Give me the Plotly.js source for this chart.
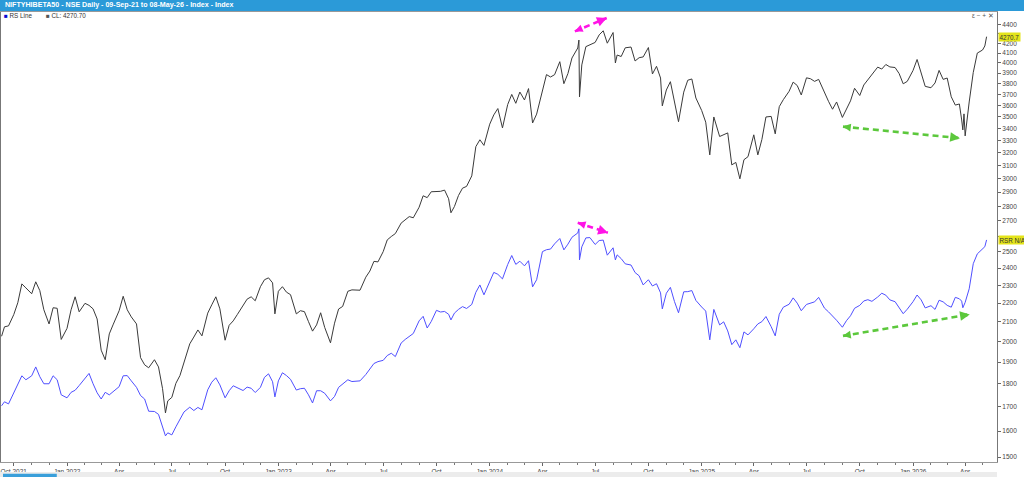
<!DOCTYPE html>
<html><head><meta charset="utf-8">
<script src="https://cdn.plot.ly/plotly-3.0.1.min.js"></script>
<style>html,body{margin:0;padding:0;background:#fff;overflow:hidden}#chart{width:1024px;height:477px}</style>
</head><body><div id="chart"></div>
<script>
const dates = [
 '2021-09-10','2021-09-15','2021-09-22','2021-09-27',
 '2021-10-01','2021-10-08','2021-10-15','2021-10-22',
 '2021-11-01','2021-11-08','2021-11-15','2021-11-22',
 '2021-12-01','2021-12-08','2021-12-15','2021-12-22',
 '2022-01-01','2022-01-08','2022-01-15','2022-01-22',
 '2022-02-01','2022-02-08','2022-02-15','2022-02-22',
 '2022-03-01','2022-03-08','2022-03-15','2022-03-22',
 '2022-04-01','2022-04-08','2022-04-15','2022-04-22',
 '2022-05-01','2022-05-08','2022-05-15','2022-05-22',
 '2022-06-01','2022-06-08','2022-06-15','2022-06-20','2022-06-24',
 '2022-07-01','2022-07-08','2022-07-15','2022-07-22',
 '2022-08-01','2022-08-08','2022-08-15','2022-08-22',
 '2022-09-01','2022-09-08','2022-09-15','2022-09-22',
 '2022-10-01','2022-10-08','2022-10-15','2022-10-22',
 '2022-11-01','2022-11-08','2022-11-15','2022-11-22',
 '2022-12-01','2022-12-08','2022-12-15','2022-12-22','2022-12-26',
 '2023-01-01','2023-01-08','2023-01-15','2023-01-22',
 '2023-02-01','2023-02-08','2023-02-15','2023-02-22',
 '2023-03-01','2023-03-08','2023-03-15','2023-03-22',
 '2023-04-01','2023-04-08','2023-04-15','2023-04-22',
 '2023-05-01','2023-05-08','2023-05-15','2023-05-22',
 '2023-06-01','2023-06-08','2023-06-15','2023-06-22',
 '2023-07-01','2023-07-08','2023-07-15','2023-07-22',
 '2023-08-01','2023-08-08','2023-08-15','2023-08-22',
 '2023-09-01','2023-09-08','2023-09-15','2023-09-22',
 '2023-10-01','2023-10-08','2023-10-15','2023-10-22','2023-10-26',
 '2023-11-01','2023-11-08','2023-11-15','2023-11-22',
 '2023-12-01','2023-12-08','2023-12-15','2023-12-22',
 '2024-01-01','2024-01-08','2024-01-15','2024-01-23',
 '2024-02-01','2024-02-08','2024-02-15','2024-02-22',
 '2024-03-01','2024-03-08','2024-03-15','2024-03-22',
 '2024-04-01','2024-04-08','2024-04-15','2024-04-22',
 '2024-05-01','2024-05-08','2024-05-15','2024-05-22',
 '2024-06-01','2024-06-03','2024-06-04','2024-06-08','2024-06-15','2024-06-22',
 '2024-07-01','2024-07-08','2024-07-15','2024-07-22',
 '2024-08-01','2024-08-05','2024-08-08','2024-08-15','2024-08-22',
 '2024-09-01','2024-09-08','2024-09-15','2024-09-22',
 '2024-10-01','2024-10-08','2024-10-15','2024-10-22','2024-10-25',
 '2024-11-01','2024-11-08','2024-11-15','2024-11-22',
 '2024-12-01','2024-12-08','2024-12-15','2024-12-22',
 '2025-01-01','2025-01-08','2025-01-15','2025-01-22',
 '2025-02-01','2025-02-08','2025-02-15','2025-02-22',
 '2025-03-01','2025-03-08','2025-03-15','2025-03-22',
 '2025-04-01','2025-04-08','2025-04-15','2025-04-22',
 '2025-05-01','2025-05-08','2025-05-15','2025-05-22',
 '2025-06-01','2025-06-08','2025-06-15','2025-06-22',
 '2025-07-01','2025-07-08','2025-07-15','2025-07-22',
 '2025-08-01','2025-08-08','2025-08-15','2025-08-22',
 '2025-09-01','2025-09-08','2025-09-15','2025-09-22',
 '2025-10-01','2025-10-08','2025-10-15','2025-10-22',
 '2025-11-01','2025-11-08','2025-11-15','2025-11-22',
 '2025-12-01','2025-12-08','2025-12-15','2025-12-22',
 '2026-01-01','2026-01-08','2026-01-15','2026-01-22',
 '2026-02-01','2026-02-08','2026-02-15','2026-02-22',
 '2026-03-01','2026-03-08','2026-03-15','2026-03-22','2026-03-26','2026-03-28','2026-03-30',
 '2026-04-01','2026-04-08','2026-04-15','2026-04-22',
 '2026-05-01','2026-05-05','2026-05-08'
];
const closeVals = [
 2026,2074,2079,2115,
 2138,2202,2308,2285,
 2252,2320,2270,2164,
 2089,2175,2172,2010,
 2066,2164,2235,2153,
 2199,2188,2169,2115,
 1957,1911,2038,2088,
 2159,2238,2164,2126,
 2089,1921,1887,1873,
 1911,1877,1778,1674,1725,
 1740,1802,1837,1901,
 1988,2022,2058,2028,
 2146,2191,2235,2169,
 2006,2082,2105,2138,
 2189,2222,2235,2213,
 2292,2332,2343,2314,2142,
 2266,2292,2261,2247,
 2142,2159,2154,2101,
 2052,2084,2148,2071,
 1993,2093,2168,2182,
 2266,2274,2274,2272,
 2347,2383,2441,2438,
 2501,2575,2597,2616,
 2685,2710,2729,2721,
 2793,2874,2861,2903,
 2907,2906,2915,2853,2755,
 2798,2876,2929,2942,
 3020,3248,3304,3258,
 3435,3515,3571,3403,
 3607,3699,3618,3721,
 3648,3753,3445,3522,
 3721,3886,3863,3885,
 4013,3799,3896,4050,
 4152,4235,3676,3981,4166,4187,
 4210,4290,4334,4202,
 4315,4000,4080,4065,4154,
 4162,4020,4053,4061,
 4157,3892,3967,3853,3595,
 3740,3818,3639,3456,
 3720,3832,3844,3666,
 3554,3452,3182,3497,
 3331,3349,3361,3104,
 3123,2998,3144,3168,
 3345,3182,3307,3497,
 3502,3353,3588,3651,
 3728,3814,3782,3694,
 3855,3846,3821,3840,
 3709,3636,3565,3630,
 3493,3572,3640,3756,
 3689,3787,3836,3880,
 3959,3940,3985,3961,
 3955,3896,3798,3821,
 3926,4035,3907,3774,
 3761,3806,3927,3840,
 3853,3677,3602,3612,3471,3386,3524,
 3336,3630,3907,4100,
 4131,4173,4270.7
];
const rsVals = [
 1704,1721,1712,1738,
 1757,1795,1836,1818,
 1836,1877,1832,1800,
 1800,1836,1818,1751,
 1738,1762,1771,1792,
 1827,1847,1800,1760,
 1733,1762,1751,1767,
 1787,1836,1837,1813,
 1784,1748,1733,1681,
 1680,1668,1621,1581,1593,
 1585,1617,1650,1678,
 1698,1684,1697,1687,
 1773,1807,1827,1795,
 1738,1769,1791,1782,
 1770,1785,1780,1761,
 1784,1829,1845,1809,1742,
 1813,1850,1837,1820,
 1772,1778,1780,1751,
 1716,1769,1769,1758,
 1725,1744,1784,1799,
 1818,1810,1810,1813,
 1842,1870,1893,1902,
 1908,1931,1942,1926,
 1992,2010,2023,2040,
 2105,2129,2068,2102,
 2161,2152,2155,2140,2110,
 2146,2166,2181,2171,
 2193,2260,2302,2246,
 2325,2375,2364,2337,
 2422,2477,2423,2442,
 2414,2445,2291,2332,
 2501,2513,2517,2550,
 2584,2512,2548,2592,
 2620,2647,2450,2531,2588,2590,
 2546,2571,2574,2479,
 2525,2450,2481,2458,2426,
 2419,2374,2355,2302,
 2332,2296,2309,2257,2169,
 2255,2288,2209,2148,
 2263,2264,2270,2215,
 2179,2157,2008,2166,
 2084,2100,2053,1984,
 2008,1969,2048,2033,
 2064,2089,2101,2128,
 2075,2028,2140,2178,
 2194,2229,2200,2159,
 2193,2202,2207,2232,
 2173,2153,2133,2108,
 2072,2106,2132,2172,
 2188,2212,2219,2210,
 2234,2255,2244,2218,
 2208,2175,2143,2167,
 2208,2245,2218,2174,
 2186,2166,2216,2207,
 2188,2178,2232,2224,2211,2175,2191,
 2204,2280,2427,2487,
 2514,2532,2575
];
const yTicks = [1500,1600,1700,1800,1900,2000,2100,2200,2300,2400,2500,2600,2700,2800,2900,3000,3100,3200,3300,3400,3500,3600,3700,3800,3900,4000,4100,4200,4300,4400];
// 4300 and 2600 sit under the yellow value boxes in the reference
const yTickLabels = ['1500','1600','1700','1800','1900','2000','2100','2200','2300','2400','2500','','2700','2800','2900','3000','3100','3200','3300','3400','3500','3600','3700','3800','3900','4000','4100','4200','','4400'];
const xTickDates = ['2021-10-01','2022-01-01','2022-04-01','2022-07-01','2022-10-01','2023-01-01','2023-04-01','2023-07-01','2023-10-01','2024-01-01','2024-04-01','2024-07-01','2024-10-01','2025-01-01','2025-04-01','2025-07-01','2025-10-01','2026-01-01','2026-04-01'];
const xTickLabels = ['Oct 2021','Jan 2022','Apr','Jul','Oct','Jan 2023','Apr','Jul','Oct','Jan 2024','Apr','Jul','Oct','Jan 2025','Apr','Jul','Oct','Jan 2026','Apr'];
const titleText = 'NIFTYHIBETA50 - NSE Daily - 09-Sep-21 to 08-May-26 - Index - Index';
const lastClose = '4270.7';

// annotation arrows: start/end date and value, colour, arrow-head tail offsets (px)
const arrowDefs = [
 {x0:'2024-05-27', v0:4328, x1:'2024-07-21', v1:4474, color:'#ff14e6', ex:-7, ey:3, sx:7, sy:-3},
 {x0:'2024-06-01', v0:2687, x1:'2024-07-23', v1:2622, color:'#ff14e6', ex:-8, ey:-2.5, sx:8, sy:2.5},
 {x0:'2025-09-02', v0:3414, x1:'2026-03-23', v1:3317, color:'#5cc83c', ex:-8, ey:-1, sx:8, sy:1},
 {x0:'2025-09-02', v0:2028, x1:'2026-04-09', v1:2139, color:'#5cc83c', ex:-8, ey:1.3, sx:8, sy:-1.3}
];

const LG = Math.log10;
const FONT = 'Liberation Sans, Arial, sans-serif';

const traces = [
 {x: dates, y: rsVals, type:'scatter', mode:'lines', name:'RS Line',
  line:{color:'#4f4fff', width:1}, hoverinfo:'skip'},
 {x: dates, y: closeVals, type:'scatter', mode:'lines', name:'CL',
  line:{color:'#3a3a3a', width:1}, hoverinfo:'skip'}
];

const shapes = [
 {type:'rect', xref:'paper', yref:'paper', x0:-0.01, x1:1.03, y0:1.0024, y1:1.03, fillcolor:'#2b9ad8', line:{width:0}, layer:'above'},
 {type:'rect', xref:'paper', yref:'paper', x0:-0.001, x1:1.0, y0:-0.0334, y1:-0.0222, fillcolor:'#ececec', line:{width:0}},
 {type:'rect', xref:'paper', yref:'paper', x0:0.002, x1:0.056, y0:-0.0334, y1:-0.0262, fillcolor:'#3a9fda', line:{width:0}}
];
const annotations = [
 {xref:'paper', yref:'paper', x:0.002, y:1.0145, xanchor:'left', yanchor:'middle', showarrow:false,
  text:'<b>'+titleText+'</b>', font:{family:FONT, size:7.1, color:'#ffffff'}},
 {xref:'paper', yref:'paper', x:0.001, y:0.9925, xanchor:'left', yanchor:'middle', showarrow:false,
  text:'<span style="color:#0a0ad0">■</span> RS Line', font:{family:FONT, size:6.3, color:'#333'}},
 {xref:'paper', yref:'paper', x:0.043, y:0.9925, xanchor:'left', yanchor:'middle', showarrow:false,
  text:'<span style="color:#555">■</span> CL: 4270.70', font:{family:FONT, size:6.3, color:'#333'}},
 {xref:'paper', yref:'paper', x:0.9985, y:0.992, xanchor:'right', yanchor:'middle', showarrow:false,
  text:'ε − + ✕', font:{family:FONT, size:6.5, color:'#555'}},
 {xref:'paper', yref:'y', x:1.0015, y:LG(4270.7), xanchor:'left', yanchor:'middle', showarrow:false,
  text:lastClose, bgcolor:'#e4e41a', borderpad:0.5, font:{family:FONT, size:6.3, color:'#333'}},
 {xref:'paper', yref:'y', x:1.0015, y:LG(2575), xanchor:'left', yanchor:'middle', showarrow:false,
  text:'RSR N/A', bgcolor:'#e4e41a', borderpad:0.5, font:{family:FONT, size:6.3, color:'#333'}}
];
arrowDefs.forEach(a => {
 shapes.push({type:'line', xref:'x', yref:'y', x0:a.x0, y0:a.v0, x1:a.x1, y1:a.v1,
  line:{color:a.color, width:2.6, dash:'6px,4px'}});
 annotations.push({xref:'x', yref:'y', x:a.x1, y:LG(a.v1), ax:a.ex, ay:a.ey, text:'', showarrow:true,
  arrowhead:2, arrowsize:0.75, arrowwidth:2.6, arrowcolor:a.color, standoff:0});
 annotations.push({xref:'x', yref:'y', x:a.x0, y:LG(a.v0), ax:a.sx, ay:a.sy, text:'', showarrow:true,
  arrowhead:2, arrowsize:0.6, arrowwidth:2.6, arrowcolor:a.color, standoff:0});
});

const layout = {
 width:1024, height:477,
 margin:{l:1, r:27, t:12, b:15, pad:0},
 paper_bgcolor:'#ffffff', plot_bgcolor:'#ffffff',
 showlegend:false, hovermode:false,
 font:{family:FONT, size:6.5, color:'#444'},
 xaxis:{type:'date', range:['2021-09-09','2026-05-26'], tickmode:'array', tickvals:xTickDates, ticktext:xTickLabels,
  ticks:'outside', ticklen:3, tickcolor:'#666', tickfont:{family:FONT, size:6.5, color:'#444'},
  showgrid:false, zeroline:false, showline:true, linecolor:'#999', linewidth:1, mirror:true,
  minor:{dtick:'M1', tick0:'2021-10-01', ticks:'outside', ticklen:2, tickcolor:'#777', showgrid:false}},
 yaxis:{type:'log', side:'right', range:[3.17069, 3.65718], tickmode:'array', tickvals:yTicks, ticktext:yTickLabels,
  ticks:'outside', ticklen:3, tickcolor:'#666', tickfont:{family:FONT, size:6.5, color:'#444'},
  showgrid:false, zeroline:false, showline:true, linecolor:'#777', linewidth:1, mirror:true},
 shapes:shapes, annotations:annotations
};
Plotly.newPlot('chart', traces, layout, {displayModeBar:false, staticPlot:true});
</script></body></html>
